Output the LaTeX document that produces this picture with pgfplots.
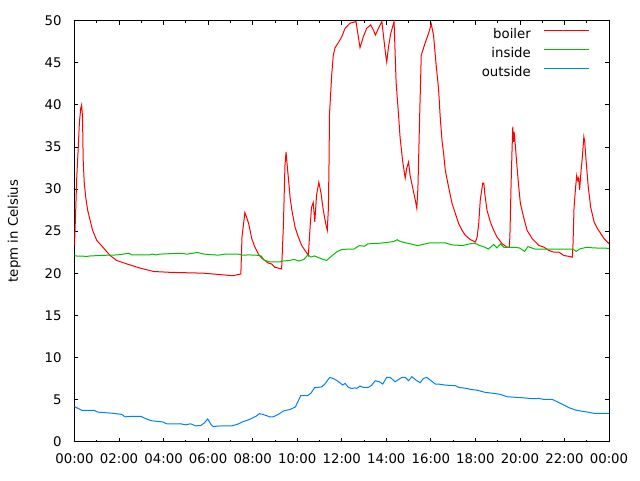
\documentclass[border=0pt]{standalone}
\usepackage{fontspec}
\setmainfont{DejaVu Sans}
\usepackage{pgfplots}
\pgfplotsset{compat=1.18}
\definecolor{gpred}{RGB}{255,0,0}
\definecolor{gpgreen}{RGB}{0,192,0}
\definecolor{gpblue}{RGB}{0,128,255}

\begin{document}
\begin{tikzpicture}[font=\fontsize{13.3}{15.5}\selectfont]
\useasboundingbox (-74.5pt,-38.5pt) rectangle (565.5pt,441.5pt);
\begin{axis}[
    at={(0pt,0pt)}, anchor=south west,
    scale only axis, width=534.5pt, height=420.8pt,
    xmin=0, xmax=24, ymin=0, ymax=50,
    xtick={0,2,...,24},
    xticklabels={00:00,02:00,04:00,06:00,08:00,10:00,12:00,14:00,16:00,18:00,20:00,22:00,00:00},
    minor xtick={1,3,...,23},
    ytick={0,5,...,50},
    tick pos=both, tick align=inside,
    major tick length=4pt, minor tick length=2pt,
    every tick/.style={black, line width=0.8pt},
    axis line style={black, line width=1pt},
    xticklabel style={yshift=-8.3pt},
    yticklabel style={xshift=-9.3pt},
    /pgf/number format/assume math mode=true,
    ylabel={tepm in Celsius},
    every axis y label/.style={at={(axis description cs:-0.113,0.5)}, rotate=90, anchor=center},
    legend style={at={(axis description cs:0.9645,1)}, anchor=north east, draw=none, fill=none,
        inner sep=0pt, yshift=-8.3pt, row sep=7pt, column sep=13pt,
        nodes={inner sep=0pt, text height=9pt, text depth=3pt}},
    legend cell align=right,
    legend plot pos=right,
    legend image code/.code={\draw[#1] (0pt,4.5pt) -- (45pt,4.5pt);},
]
% boiler
\addplot[gpred, line width=1pt] coordinates {
(0,23.3) (0.05,27.1) (0.10,31.3) (0.17,35) (0.22,37.9) (0.28,39.6) (0.32,40.0) (0.36,38.6)
(0.39,33.4) (0.44,30.7) (0.50,29.1) (0.59,27.5) (0.70,26.3) (0.81,25.1) (1.0,23.9) (1.3,23.0)
(1.6,22.1) (1.9,21.5) (2.35,21.1) (2.95,20.6) (3.55,20.2) (4.3,20.1) (5.8,20.0) (7.1,19.7)
(7.47,19.9) (7.52,24.3) (7.65,27.2) (7.72,26.7) (7.82,25.9) (7.96,24.1) (8.1,23.1) (8.25,22.3)
(8.4,21.8) (8.55,21.5) (8.7,21.2) (8.85,21.1) (9.0,20.7) (9.3,20.5) (9.38,25.7) (9.45,32.8)
(9.5,34.4) (9.53,33.4) (9.6,31.4) (9.68,29.0) (9.76,27.5) (9.9,25.5) (10.05,24.3) (10.2,23.3)
(10.35,22.7) (10.5,22.1) (10.57,25.1) (10.64,27.8) (10.72,28.4) (10.79,26.1) (10.87,29.3) (10.97,30.8)
(11.07,29.5) (11.17,27.5) (11.28,25.9) (11.35,25.1) (11.4,27.7) (11.43,33.4) (11.45,38.9) (11.55,43.6)
(11.62,45.9) (11.7,46.8) (11.85,47.4) (12.0,48.1) (12.15,49.1) (12.37,49.7) (12.64,49.9) (12.75,48.0)
(12.82,46.8) (12.97,48.1) (13.12,49.1) (13.3,49.5) (13.42,48.9) (13.51,48.3) (13.65,49.1) (13.8,49.9)
(13.87,48.3) (13.96,46.2) (14.02,45.1) (14.1,46.9) (14.2,48.5) (14.35,49.9) (14.44,42.7) (14.55,38.8)
(14.62,36.1) (14.74,33.2) (14.85,31.3) (14.92,32.5) (15.0,33.2) (15.07,31.6) (15.19,30.1) (15.3,28.7)
(15.37,27.7) (15.42,30.1) (15.5,38.8) (15.57,45.9) (15.75,47.4) (15.9,48.5) (16.02,49.6) (16.12,48.3)
(16.24,44.7) (16.35,41.8) (16.42,38.6) (16.5,35.8) (16.57,34.3) (16.65,32.2) (16.8,30.2) (16.95,28.3)
(17.1,27.1) (17.25,25.9) (17.4,25.1) (17.55,24.5) (17.77,24.0) (18.0,23.7) (18.08,24.3) (18.15,25.9)
(18.22,28.7) (18.33,30.7) (18.38,30.7) (18.42,29.5) (18.52,27.5) (18.67,26.1) (18.82,25.1) (18.97,24.3)
(19.2,23.5) (19.42,23.1) (19.52,23.1) (19.55,24.3) (19.6,30.2) (19.65,35.0) (19.68,37.4) (19.71,35.6)
(19.74,36.8) (19.8,35.0) (19.87,32.6) (19.95,30.2) (20.02,28.3) (20.17,26.6) (20.32,25.1) (20.55,24.1)
(20.85,23.3) (21.07,23.1) (21.3,22.7) (21.52,22.5) (21.75,22.5) (21.97,22.1) (22.2,22.0) (22.35,21.9)
(22.38,23.1) (22.43,27.8) (22.5,30.2) (22.55,31.6) (22.6,31.0) (22.64,31.3) (22.68,29.9) (22.74,32.0)
(22.8,33.7) (22.87,36.2) (22.91,35.6) (22.98,33.1) (23.07,30.2) (23.18,27.8) (23.33,26.1) (23.48,25.3)
(23.63,24.7) (23.78,24.1) (24.0,23.5)
};
\addlegendentry{boiler}
% inside
\addplot[gpgreen, line width=1pt] coordinates {
(0,22.05) (0.57,22.0) (0.72,22.05) (1.5,22.14) (1.96,22.17) (2.43,22.37) (2.58,22.17) (3.35,22.17)
(3.51,22.26) (3.66,22.17) (3.82,22.26) (4.75,22.37) (5.05,22.26) (5.52,22.46) (5.83,22.26) (6.45,22.14)
(6.76,22.26) (7.37,22.26) (7.53,22.14) (7.84,22.17) (8.15,22.14) (8.38,22.05) (8.53,21.52) (8.77,21.35)
(9.23,21.35) (9.38,21.45) (9.69,21.52) (9.85,21.64) (10.08,21.45) (10.31,21.64) (10.47,22.17) (10.62,21.92)
(10.78,22.05) (10.96,21.85) (11.16,21.64) (11.32,21.52) (11.55,22.05) (11.78,22.54) (12.01,22.83) (12.55,22.87)
(12.79,23.28) (13.02,23.2) (13.17,23.48) (13.71,23.56) (14.33,23.76) (14.49,23.97) (14.64,23.76) (14.95,23.56)
(15.41,23.28) (15.96,23.6) (16.65,23.6) (16.96,23.36) (17.42,23.28) (17.73,23.48) (17.97,23.56) (18.2,23.28)
(18.43,23.08) (18.58,22.87) (18.82,23.4) (18.97,23.0) (19.13,23.48) (19.28,23.08) (19.51,23.08) (19.74,23.08)
(19.98,23.0) (20.21,22.59) (20.36,23.16) (20.67,22.87) (21.45,22.87) (22.37,22.87) (22.53,22.59) (22.68,22.87)
(22.99,23.08) (23.3,23.0) (23.84,22.97) (24,22.95)
};
\addlegendentry{inside}
% outside
\addplot[gpblue, line width=1pt] coordinates {
(0,4.15) (0.34,3.7) (0.88,3.7) (1.04,3.5) (1.34,3.43) (1.73,3.35) (2.12,3.22) (2.27,2.93)
(2.58,3.0) (2.97,3.0) (3.13,2.8) (3.43,2.48) (3.97,2.32) (4.13,2.11) (4.44,2.1) (4.75,2.11)
(4.98,1.98) (5.21,2.1) (5.44,1.86) (5.67,1.9) (5.83,2.2) (5.98,2.68) (6.14,1.98) (6.22,1.78)
(6.6,1.86) (7.07,1.86) (7.37,2.1) (7.53,2.32) (7.84,2.6) (8.15,3.0) (8.3,3.3) (8.46,3.22)
(8.77,2.93) (8.92,2.93) (9.15,3.22) (9.38,3.62) (9.69,3.82) (9.92,4.11) (10.16,5.46) (10.47,5.46)
(10.62,5.75) (10.78,6.4) (11.09,6.48) (11.24,6.82) (11.37,7.3) (11.47,7.62) (11.7,7.38) (11.92,6.98)
(12.04,6.71) (12.15,6.9) (12.3,6.43) (12.45,6.3) (12.6,6.38) (12.67,6.3) (12.82,6.59) (12.97,6.43)
(13.2,6.43) (13.35,6.7) (13.5,7.22) (13.69,7.1) (13.84,6.83) (14.02,7.62) (14.17,7.62) (14.4,7.1)
(14.7,7.62) (14.85,7.62) (15.0,7.22) (15.15,7.7) (15.37,7.22) (15.52,6.98) (15.67,7.5) (15.82,7.62)
(15.97,7.3) (16.2,6.83) (16.42,6.8) (16.65,6.7) (17.1,6.63) (17.25,6.43) (17.62,6.3) (17.77,6.2)
(18.07,6.1) (18.44,5.84) (18.89,5.7) (19.12,5.6) (19.42,5.32) (20.1,5.2) (20.62,5.08) (20.84,5.12)
(21.07,5.0) (21.45,5.0) (21.67,4.73) (21.97,4.34) (22.2,4.02) (22.5,3.74) (22.72,3.62) (23.1,3.47)
(23.32,3.35) (23.89,3.35) (24,3.35)
};
\addlegendentry{outside}
\end{axis}
\end{tikzpicture}
\end{document}
